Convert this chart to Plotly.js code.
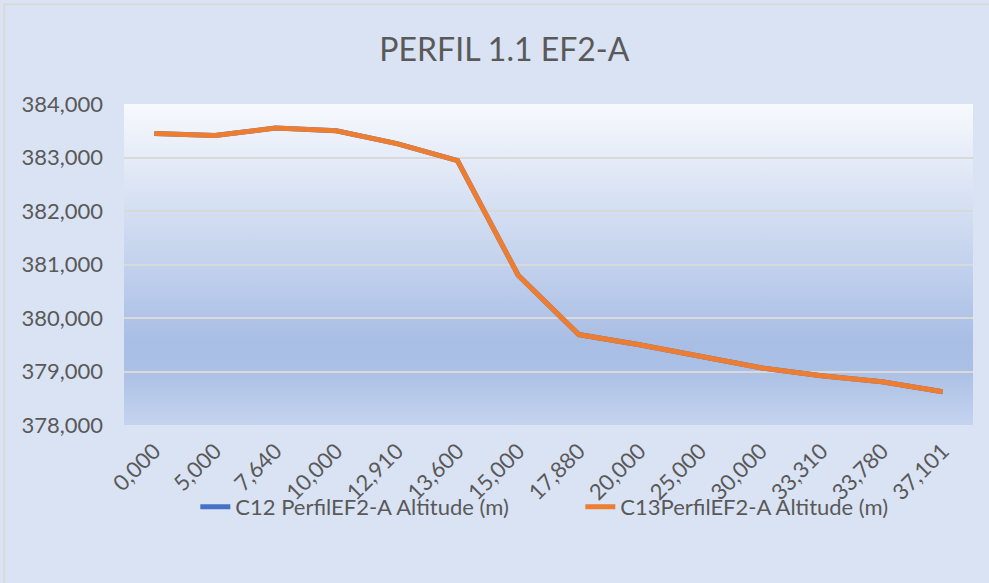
<!DOCTYPE html>
<html>
<head>
<meta charset="utf-8">
<script src="https://cdn.plot.ly/plotly-3.0.1.min.js"></script>
<style>html,body{margin:0;padding:0;background:#DAE3F3;}#chart{width:989px;height:583px;}</style>
</head>
<body>
<div id="chart"></div>
<script>
const categories = ["0,000","5,000","7,640","10,000","12,910","13,600","15,000","17,880","20,000","25,000","30,000","33,310","33,780","37,101"];
const altitudeC12 = [383450,383410,383550,383500,383260,382940,380800,379690,379500,379290,379070,378920,378810,378620];
const altitudeC13 = [383450,383410,383550,383500,383260,382940,380800,379690,379500,379290,379070,378920,378810,378620];
const seriesNames = ["C12 PerfilEF2-A Altitude (m)", "C13PerfilEF2-A Altitude (m)"];
const yTicks = [378000,379000,380000,381000,382000,383000,384000];
const yTickLabels = ["378,000","379,000","380,000","381,000","382,000","383,000","384,000"];

const gradSvg = '<svg xmlns="http://www.w3.org/2000/svg" width="100" height="100" preserveAspectRatio="none">' +
  '<defs><linearGradient id="g" x1="0" y1="0" x2="0" y2="1">' +
  '<stop offset="0" stop-color="#F7F9FD"/><stop offset="0.74" stop-color="#A9BEE5"/>' +
  '<stop offset="0.83" stop-color="#ABC0E5"/><stop offset="1" stop-color="#C5D3EE"/>' +
  '</linearGradient></defs><rect width="100" height="100" fill="url(#g)"/></svg>';
const gradUri = 'data:image/svg+xml;base64,' + btoa(gradSvg);

const font = 'Lato, "Open Sans", sans-serif';
const traces = [
  {x: categories, y: altitudeC12, type: 'scatter', mode: 'lines', name: seriesNames[0],
   line: {color: '#4472C4', width: 5}},
  {x: categories, y: altitudeC13, type: 'scatter', mode: 'lines', name: seriesNames[1],
   line: {color: '#ED7D31', width: 5}}
];
const layout = {
  width: 989, height: 583,
  paper_bgcolor: '#DAE3F3', plot_bgcolor: 'rgba(0,0,0,0)',
  margin: {l: 124, r: 16, t: 104, b: 158},
  title: {text: 'PERFIL 1.1 EF2-A', font: {family: font, size: 32, color: '#595959'}, x: 0.51, xanchor: 'center', y: 0.914, yanchor: 'middle'},
  font: {family: font, color: '#595959'},
  xaxis: {type: 'category', range: [-0.5, 13.5], tickangle: -45, tickfont: {size: 22, color: '#595959'},
          showgrid: false, zeroline: false, showline: false, ticks: '', ticklen: 0,
          ticklabelstandoff: 8, automargin: false},
  yaxis: {range: [378000, 384000], tickvals: yTicks, ticktext: yTickLabels,
          tickfont: {size: 22, color: '#595959'}, showgrid: true, gridcolor: '#D9D9D9', gridwidth: 2,
          zeroline: false, showline: false, ticks: '', ticklabelstandoff: 20, automargin: false},
  showlegend: true,
  legend: {orientation: 'h', x: 0.084, xanchor: 'left', y: -0.255, yanchor: 'middle',
           bgcolor: 'rgba(0,0,0,0)', font: {size: 22, color: '#595959'},
           entrywidth: 340, entrywidthmode: 'pixels'},
  images: [{source: gradUri, xref: 'paper', yref: 'paper', x: 0, y: 1, sizex: 1, sizey: 1,
            xanchor: 'left', yanchor: 'top', sizing: 'stretch', layer: 'below'}],
  shapes: [{type: 'rect', xref: 'paper', yref: 'paper', x0: -0.141, x1: 1.3, y0: -2, y1: 1.31,
            line: {color: '#D9D9D9', width: 2}, fillcolor: 'rgba(0,0,0,0)', layer: 'below'}]
};
Plotly.newPlot('chart', traces, layout, {displayModeBar: false, staticPlot: true});
</script>
</body>
</html>
